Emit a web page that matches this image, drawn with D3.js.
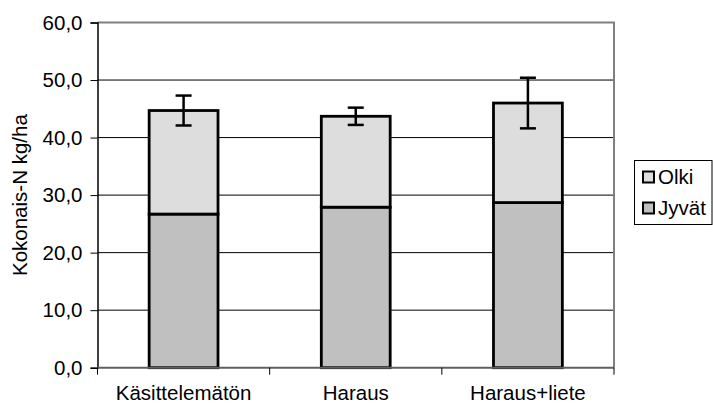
<!DOCTYPE html>
<html>
<head>
<meta charset="utf-8">
<script src="https://cdn.jsdelivr.net/npm/d3@7"></script>
<style>
  html, body { margin: 0; padding: 0; background: #fff; }
  svg { display: block; }
  text { font-family: "Liberation Sans", Arial, sans-serif; fill: #000; }
</style>
</head>
<body>
<svg id="chart" width="713" height="405"></svg>
<script>
const categories = ["Käsittelemätön", "Haraus", "Haraus+liete"];
const seriesNames = ["Jyvät", "Olki"];
const jyvat = [26.7, 27.9, 28.7];
const olki = [18.0, 15.8, 17.3];
const errorValues = [2.6, 1.5, 4.4];
const yTicks = [0, 10, 20, 30, 40, 50, 60];
const yLabel = "Kokonais-N kg/ha";
const colors = { "Jyvät": "#c0c0c0", "Olki": "#dddddd" };

const svg = d3.select("#chart");
const plot = { left: 97.5, right: 614, top: 22.5, bottom: 367.7 };
const fs = 20.5;

const x = d3.scaleBand().domain(categories).range([plot.left, plot.right]).paddingInner(0.6).paddingOuter(0.3);
const xc = d3.scaleBand().domain(categories).range([plot.left, plot.right]);
const y = d3.scaleLinear().domain([0, 60]).range([plot.bottom, plot.top]);

// gridlines
svg.append("g").selectAll("line").data(yTicks.filter(d => d > 0 && d < 60)).join("line")
  .attr("x1", plot.left).attr("x2", plot.right)
  .attr("y1", d => y(d)).attr("y2", d => y(d))
  .attr("stroke", "#000").attr("stroke-width", 1);

// plot border (top & right)
svg.append("path")
  .attr("d", `M${plot.left},${y(60)}H${plot.right}V${plot.bottom}`)
  .attr("fill", "none").attr("stroke", "#808080").attr("stroke-width", 2);

// stacked bars
const table = categories.map((c, i) => ({ cat: c, "Jyvät": jyvat[i], "Olki": olki[i] }));
const stack = d3.stack().keys(seriesNames)(table);
stack.forEach(layer => {
  svg.append("g").selectAll("rect").data(layer).join("rect")
    .attr("x", d => x(d.data.cat))
    .attr("width", x.bandwidth())
    .attr("y", d => y(d[1]))
    .attr("height", d => y(d[0]) - y(d[1]))
    .attr("fill", colors[layer.key])
    .attr("stroke", "#000").attr("stroke-width", 2.8);
});

// error bars
const eb = svg.append("g");
table.forEach((d, i) => {
  const total = jyvat[i] + olki[i];
  const cx = x(d.cat) + x.bandwidth() / 2;
  const top = y(total + errorValues[i]), bot = y(total - errorValues[i]);
  eb.append("line").attr("x1", cx).attr("x2", cx).attr("y1", top).attr("y2", bot)
    .attr("stroke", "#000").attr("stroke-width", 2.5);
  [top, bot].forEach(yy => eb.append("line").attr("x1", cx - 8).attr("x2", cx + 8)
    .attr("y1", yy).attr("y2", yy).attr("stroke", "#000").attr("stroke-width", 2.5));
});

// y axis
const yAxis = svg.append("g").attr("transform", `translate(${plot.left},0)`)
  .call(d3.axisLeft(y).tickValues(yTicks).tickSize(7).tickPadding(8)
    .tickFormat(d => d3.format(".1f")(d).replace(".", ",")));
yAxis.select(".domain").attr("stroke", "#000").attr("stroke-width", 1.5);
yAxis.selectAll(".tick line").attr("stroke", "#000");
yAxis.selectAll("text").attr("font-size", fs).attr("font-family", null);

// x axis
const xAxis = svg.append("g").attr("transform", `translate(0,${plot.bottom})`)
  .call(d3.axisBottom(xc).tickSize(0).tickPadding(18));
xAxis.select(".domain").remove();
xAxis.selectAll("text").attr("font-size", fs).attr("font-family", null);
svg.append("line").attr("x1", plot.left).attr("x2", plot.right)
  .attr("y1", plot.bottom).attr("y2", plot.bottom)
  .attr("stroke", "#606060").attr("stroke-width", 2);
// category separator ticks
const sepTicks = categories.map(c => xc(c)).concat([plot.right]);
svg.append("g").selectAll("line").data(sepTicks).join("line")
  .attr("x1", d => d).attr("x2", d => d)
  .attr("y1", plot.bottom).attr("y2", plot.bottom + 7)
  .attr("stroke", "#000").attr("stroke-width", 1);

// y label
svg.append("text")
  .attr("transform", `translate(27,${(plot.top + plot.bottom) / 2}) rotate(-90)`)
  .attr("text-anchor", "middle")
  .attr("font-size", fs)
  .text(yLabel);

// legend
const lg = svg.append("g");
lg.append("rect").attr("x", 634.5).attr("y", 160.5).attr("width", 77.5).attr("height", 64)
  .attr("fill", "#fff").attr("stroke", "#000").attr("stroke-width", 1);
["Olki", "Jyvät"].forEach((k, i) => {
  const yy = 177 + i * 31;
  lg.append("rect").attr("x", 643).attr("y", yy - 5.5).attr("width", 11).attr("height", 11)
    .attr("fill", colors[k]).attr("stroke", "#000").attr("stroke-width", 2);
  lg.append("text").attr("x", 658).attr("y", yy).attr("dy", "0.35em")
    .attr("font-size", fs).text(k);
});
</script>
</body>
</html>
